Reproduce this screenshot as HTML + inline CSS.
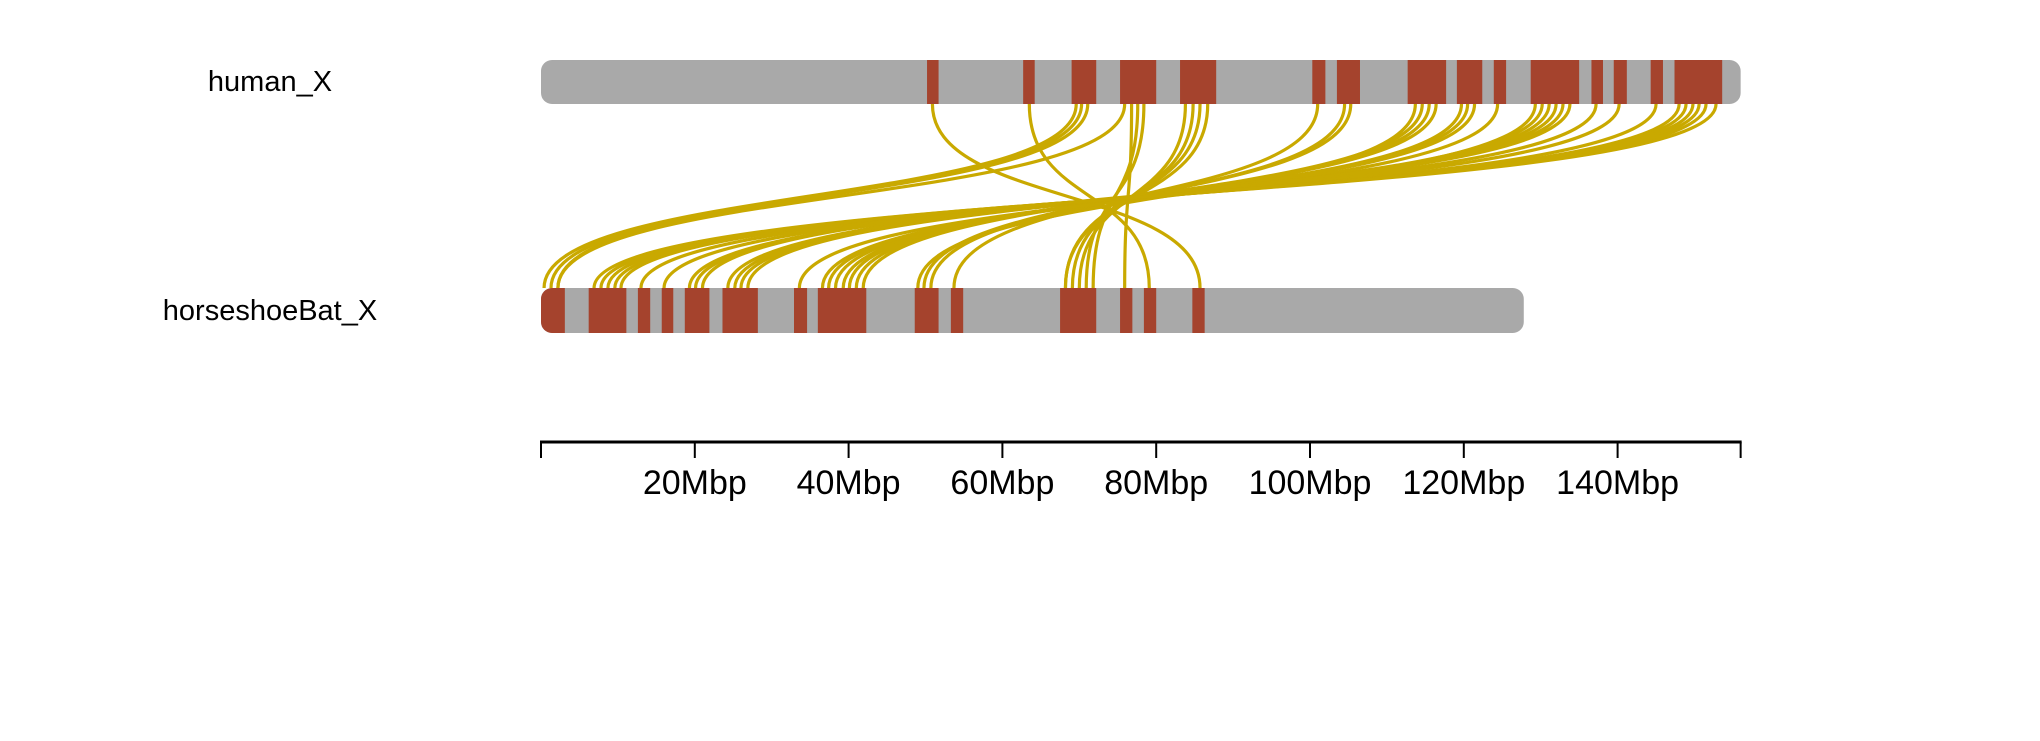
<!DOCTYPE html>
<html><head><meta charset="utf-8"><style>
html,body{margin:0;padding:0;background:#fff;}
svg{display:block;font-family:"Liberation Sans",Arial,sans-serif;}
</style></head><body>
<svg id="chart" width="2040" height="741" viewBox="0 0 2040 741">
<text x="270" y="91" font-size="29" text-anchor="middle">human_X</text>
<text x="270" y="320" font-size="29" text-anchor="middle">horseshoeBat_X</text>
<g id="links"></g>
<g id="bars"></g>
<g id="axis"></g>
</svg>
<script>
const humanLength = 156;
const batLength = 127.8;
const humanBlocks = [[50.2,51.7],[62.7,64.2],[69.0,72.2],[75.3,80.0],[83.1,87.8],[100.3,102.0],[103.5,106.5],[112.7,117.7],[119.1,122.4],[123.9,125.5],[128.7,135.0],[136.6,138.1],[139.5,141.2],[144.3,145.9],[147.4,153.6]];
const batBlocks = [[0,3.1],[6.2,11.1],[12.6,14.2],[15.7,17.2],[18.7,21.9],[23.6,28.2],[32.9,34.6],[36.0,42.3],[48.6,51.7],[53.3,54.9],[67.5,72.2],[75.3,76.9],[78.4,80.0],[84.7,86.3]];
const linkHuman = [50.9,63.5,69.6,70.3,71.1,75.9,76.8,77.6,78.4,83.8,84.8,85.7,86.7,
 101.0,104.5,105.3,113.7,114.6,115.5,116.4,119.7,120.5,121.4,124.4,129.3,130.2,131.1,132.0,132.9,133.8,137.2,140.2,145.0,148.0,148.9,149.8,150.6,151.5,152.8];
const linkBat = [85.7,79.1,0.4,1.3,2.2,2.2,75.9,71.8,70.9,70.0,69.1,68.2,68.2,
 53.7,50.7,49.8,49.0,41.9,41.0,40.1,39.3,38.3,37.4,36.6,33.6,26.9,26.0,25.2,24.3,21.0,20.1,19.3,16.0,13.0,10.4,9.6,8.7,7.8,6.9];
const tickValues = [0,20,40,60,80,100,120,140,156];
const tickLabels = ["","20Mbp","40Mbp","60Mbp","80Mbp","100Mbp","120Mbp","140Mbp",""];

const NS="http://www.w3.org/2000/svg";
const X0=541, PX=7.69;
const xs = v => X0 + v*PX;
const HY0=60, HY1=104, BY0=288, BY1=333;

const links=document.getElementById('links');
for(let i=0;i<linkHuman.length;i++){
  const hx=xs(linkHuman[i]), bx=xs(linkBat[i]);
  const p=document.createElementNS(NS,'path');
  const my=(HY1+BY0)/2;
  p.setAttribute('d',`M${hx},${HY1} C${hx},${my+10} ${bx},${my-10} ${bx},${BY0}`);
  p.setAttribute('fill','none');p.setAttribute('stroke','#c9a900');p.setAttribute('stroke-width','3.2');
  
  
  links.appendChild(p);
}

const bars=document.getElementById('bars');
function chrom(len,y0,y1,blocks,name){
  const g=document.createElementNS(NS,'g');
  
  
  const cid='clip-'+name;
  const cp=document.createElementNS(NS,'clipPath');cp.setAttribute('id',cid);
  const cr=document.createElementNS(NS,'rect');
  cr.setAttribute('x',xs(0));cr.setAttribute('y',y0);cr.setAttribute('width',len*PX);cr.setAttribute('height',y1-y0);cr.setAttribute('rx',11);
  cp.appendChild(cr);g.appendChild(cp);
  const r=document.createElementNS(NS,'rect');
  r.setAttribute('x',xs(0));r.setAttribute('y',y0);r.setAttribute('width',len*PX);r.setAttribute('height',y1-y0);r.setAttribute('rx',11);r.setAttribute('fill','#a9a9a9');
  
  
  g.appendChild(r);
  for(const b of blocks){
    const br=document.createElementNS(NS,'rect');
    br.setAttribute('x',xs(b[0]));br.setAttribute('y',y0);br.setAttribute('width',(b[1]-b[0])*PX);br.setAttribute('height',y1-y0);
    br.setAttribute('fill','#a5432d');br.setAttribute('clip-path',`url(#${cid})`);
    
    
    g.appendChild(br);
  }
  bars.appendChild(g);
}
chrom(humanLength,HY0,HY1,humanBlocks,'human-x-chromosome');
chrom(batLength,BY0,BY1,batBlocks,'horseshoebat-x-chromosome');

const axis=document.getElementById('axis');
const AY=442;
const al=document.createElementNS(NS,'line');
al.setAttribute('x1',xs(0)-1);al.setAttribute('x2',xs(humanLength)+1);al.setAttribute('y1',AY);al.setAttribute('y2',AY);
al.setAttribute('stroke','#000');al.setAttribute('stroke-width','3');


axis.appendChild(al);
tickValues.forEach((v,i)=>{
  const t=document.createElementNS(NS,'line');
  t.setAttribute('x1',xs(v));t.setAttribute('x2',xs(v));t.setAttribute('y1',AY);t.setAttribute('y2',AY+16);
  t.setAttribute('stroke','#000');t.setAttribute('stroke-width','2');
  
  
  axis.appendChild(t);
  if(tickLabels[i]){
    const tx=document.createElementNS(NS,'text');
    tx.setAttribute('x',xs(v));tx.setAttribute('y',AY+52);tx.setAttribute('font-size','34');tx.setAttribute('text-anchor','middle');
    tx.textContent=tickLabels[i];
    
    
    axis.appendChild(tx);
  }
});
</script>
</body></html>
